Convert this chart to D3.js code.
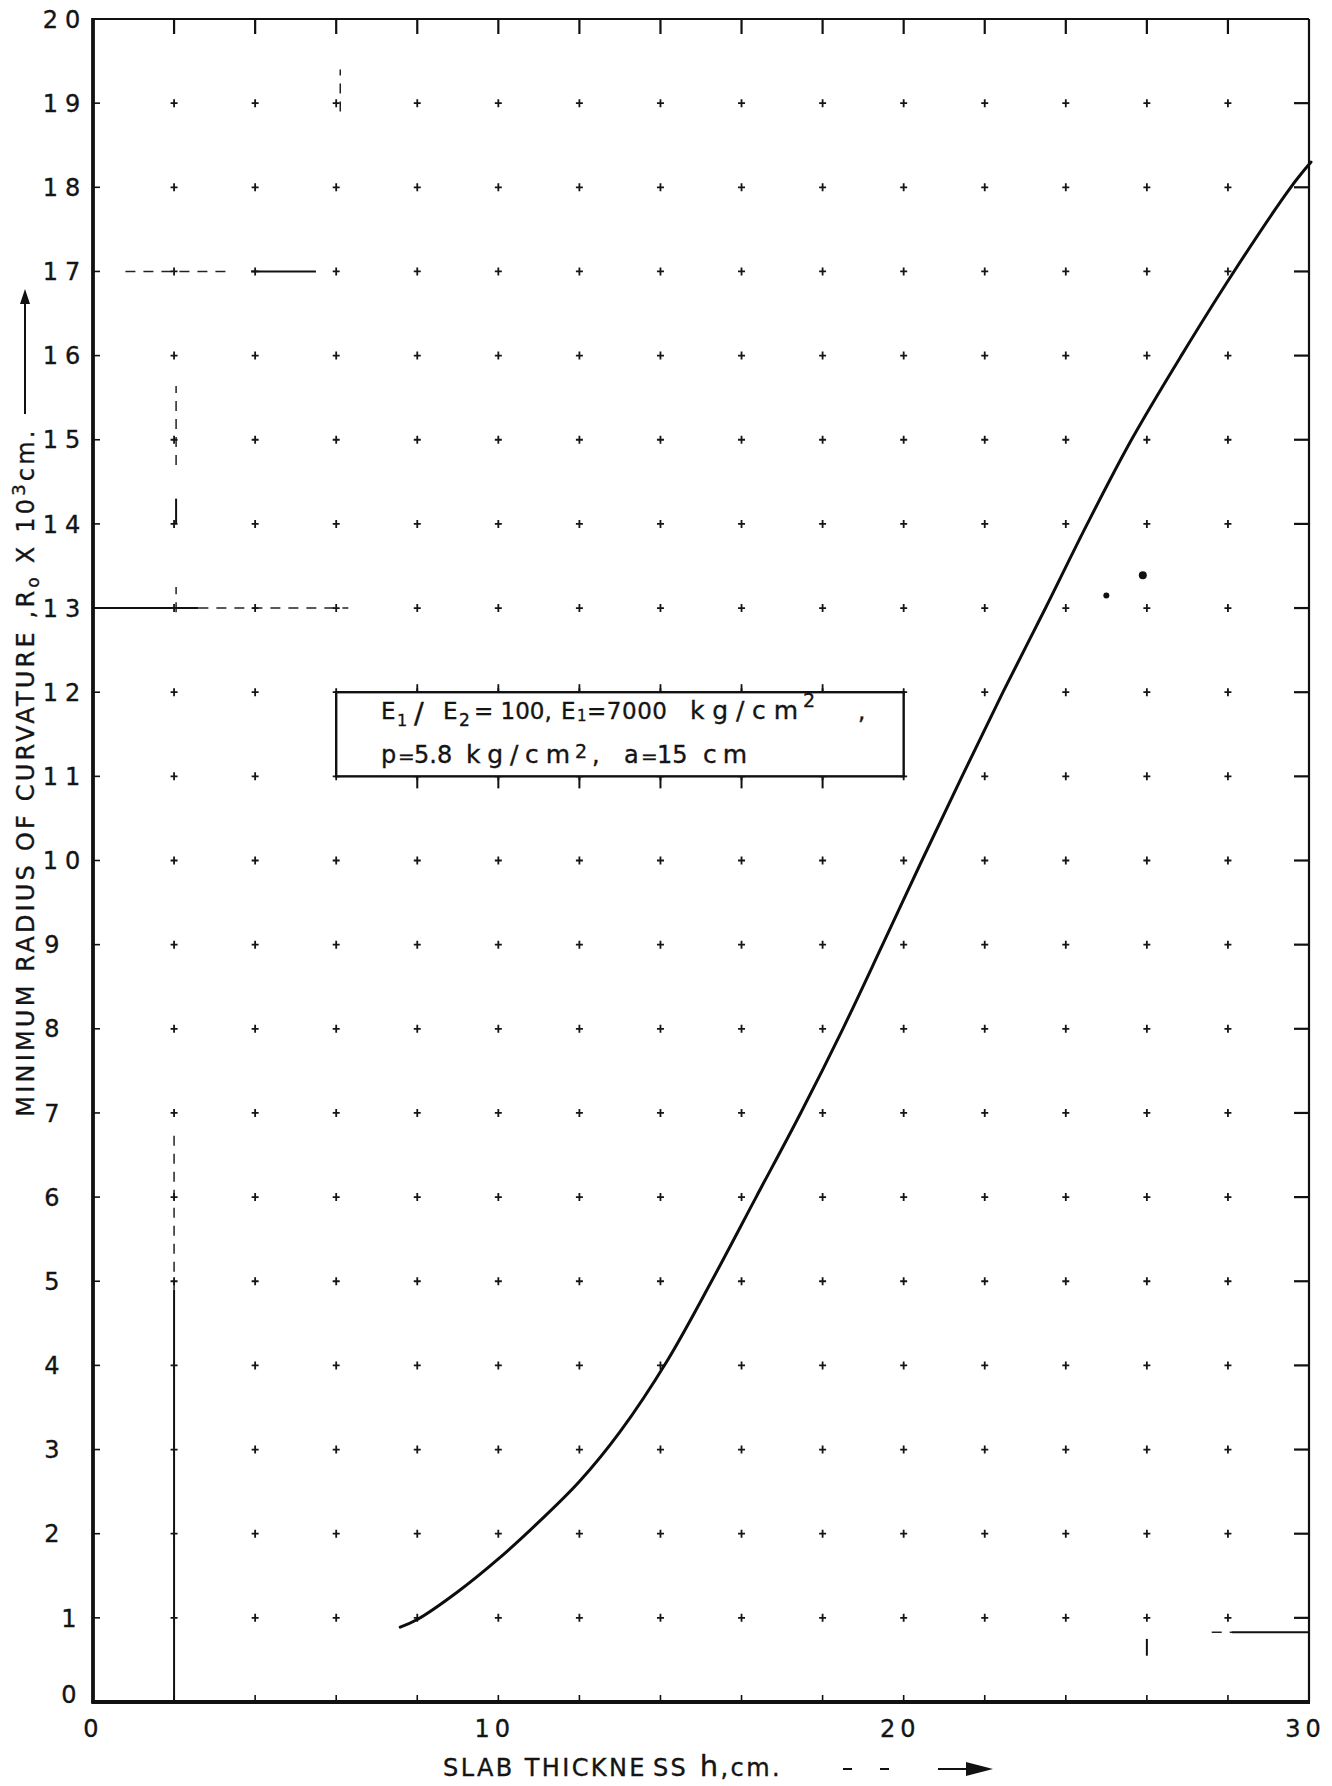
<!DOCTYPE html>
<html>
<head>
<meta charset="utf-8">
<script src="https://cdn.jsdelivr.net/npm/d3@7"></script>
<style>
  html, body { margin: 0; padding: 0; background: #fff; }
  svg { display: block; }
  text { font-family: "DejaVu Sans", sans-serif; fill: #141414; stroke: #141414; stroke-width: 0.35px; }
</style>
</head>
<body>
<svg id="chart" width="1332" height="1786"></svg>
<script>
// ---- data ----
const xDomain = [0, 30];          // slab thickness h, cm
const yDomain = [0, 20];          // R0 x 10^3 cm
const xTickLabels = [0, 10, 20, 30];
const yTickLabels = d3.range(0, 21);
const gridX = d3.range(2, 30, 2); // graph-paper marker columns
const gridY = d3.range(1, 20);    // graph-paper marker rows

// minimum radius of curvature vs slab thickness
const slabThickness = [7.58, 8, 9, 10, 11, 12, 13, 14.16, 15.26, 16.36, 17.46, 18.5,
                       19.48, 20.45, 21.44, 22.45, 23.5, 24.53, 25.62, 26.85, 28.15, 29.55, 30.05];
const radiusCurv    = [0.89, 0.98, 1.31, 1.7, 2.14, 2.62, 3.21, 4.05, 5.0, 6.0, 7.0, 8.0,
                       9.0, 10, 11, 12, 13, 14, 15, 16, 17, 18, 18.3];

// pencil construction lines left on the sheet: [x1, y1, x2, y2]
const guideSolid = [[2, 0, 2, 4.9], [0, 13, 2.6, 13], [3.9, 17, 5.5, 17], [2.05, 14.0, 2.05, 14.3],
                    [28.1, 0.83, 30, 0.83], [26, 0.55, 26, 0.75]];
const guideDashed = [[2, 4.9, 2, 6.8], [2.05, 12.95, 2.05, 13.25], [2.05, 14.7, 2.05, 15.64],
                     [2.6, 13, 6.3, 13], [0.8, 17, 3.4, 17], [6.1, 18.9, 6.1, 19.4], [27.6, 0.83, 28.1, 0.83]];
const inkSpots = [[25.0, 13.15, 3], [25.9, 13.39, 4]];

// legend box corners in data units
const boxX = [6, 20], boxY = [11, 12];
const boxTickX = d3.range(8, 20, 2);

// ---- scales ----
const x = d3.scaleLinear().domain(xDomain).range([93, 1309]);
const y = d3.scaleLinear().domain(yDomain).range([1702, 19]);

const svg = d3.select("#chart");
const g = svg.append("g");

// construction lines
g.selectAll("line.guide").data(guideSolid).join("line")
  .attr("x1", d => x(d[0])).attr("y1", d => y(d[1]))
  .attr("x2", d => x(d[2])).attr("y2", d => y(d[3]))
  .attr("stroke", "#111").attr("stroke-width", 2);
g.selectAll("line.guided").data(guideDashed).join("line")
  .attr("x1", d => x(d[0])).attr("y1", d => y(d[1]))
  .attr("x2", d => x(d[2])).attr("y2", d => y(d[3]))
  .attr("stroke", "#222").attr("stroke-width", 1.5).attr("stroke-dasharray", "10 8");
g.selectAll("circle.spot").data(inkSpots).join("circle")
  .attr("cx", d => x(d[0])).attr("cy", d => y(d[1])).attr("r", d => d[2]).attr("fill", "#111");

// graph-paper "+" markers
const crossPts = [];
gridX.forEach(gx => gridY.forEach(gy => crossPts.push([gx, gy])));
const cross = g.append("g").attr("stroke", "#151515").attr("stroke-width", 1.8);
cross.selectAll("path").data(crossPts).join("path")
  .attr("d", d => {
    const cx = x(d[0]), cy = y(d[1]);
    return `M${cx - 3.5},${cy}H${cx + 3.5}M${cx},${cy - 4}V${cy + 4}`;
  });

// frame
const frame = g.append("g").attr("stroke", "#111").attr("fill", "none");
frame.append("line").attr("x1", x(0)).attr("x2", x(30)).attr("y1", y(20)).attr("y2", y(20)).attr("stroke-width", 2.2);
frame.append("line").attr("x1", x(30)).attr("x2", x(30)).attr("y1", y(20)).attr("y2", y(0)).attr("stroke-width", 2.2);
frame.append("line").attr("x1", x(0)).attr("x2", x(0)).attr("y1", y(20) - 1).attr("y2", y(0) + 1.5).attr("stroke-width", 3.8);
frame.append("line").attr("x1", x(0) - 1.5).attr("x2", x(30) + 1).attr("y1", y(0)).attr("y2", y(0)).attr("stroke-width", 3.8);

// edge ticks
frame.selectAll("line.tt").data(gridX).join("line")
  .attr("x1", d => x(d)).attr("x2", d => x(d)).attr("y1", y(20)).attr("y2", y(20) + 15).attr("stroke-width", 2.2);
frame.selectAll("line.bt").data(gridX).join("line")
  .attr("x1", d => x(d)).attr("x2", d => x(d)).attr("y1", y(0)).attr("y2", y(0) - 7).attr("stroke-width", 1.6);
frame.selectAll("line.rt").data(gridY).join("line")
  .attr("x1", x(30) - 15).attr("x2", x(30)).attr("y1", d => y(d)).attr("y2", d => y(d)).attr("stroke-width", 2.2);
frame.selectAll("line.lt").data(gridY).join("line")
  .attr("x1", x(0)).attr("x2", x(0) + 7).attr("y1", d => y(d)).attr("y2", d => y(d)).attr("stroke-width", 1.6);

// curve
const line = d3.line().x(d => x(d[0])).y(d => y(d[1])).curve(d3.curveCatmullRom.alpha(0.5));
g.append("path")
  .datum(slabThickness.map((h, i) => [h, radiusCurv[i]]))
  .attr("d", line).attr("fill", "none").attr("stroke", "#0d0d0d").attr("stroke-width", 3)
  .attr("stroke-linejoin", "round").attr("stroke-linecap", "round");

// legend box
const box = g.append("g");
box.append("rect")
  .attr("x", x(boxX[0])).attr("y", y(boxY[1]))
  .attr("width", x(boxX[1]) - x(boxX[0])).attr("height", y(boxY[0]) - y(boxY[1]))
  .attr("fill", "#fff").attr("stroke", "#111").attr("stroke-width", 2.4);
box.selectAll("line.up").data(boxTickX).join("line")
  .attr("x1", d => x(d)).attr("x2", d => x(d)).attr("y1", y(boxY[1])).attr("y2", y(boxY[1]) - 8)
  .attr("stroke", "#111").attr("stroke-width", 1.8);
box.selectAll("line.dn").data(boxTickX).join("line")
  .attr("x1", d => x(d)).attr("x2", d => x(d)).attr("y1", y(boxY[0])).attr("y2", y(boxY[0]) + 12)
  .attr("stroke", "#111").attr("stroke-width", 2);

// lettering-guide style text: word groups spaced out to their drawn width
function letter(parent, px, py, str, width, size) {
  const t = parent.append("text").attr("x", px).attr("y", py).style("font-size", size + "px").text(str);
  if (width) t.attr("textLength", width).attr("lengthAdjust", "spacing");
  return t;
}
const l1 = y(boxY[1]) + 27, l2 = y(boxY[0]) - 13;
// line 1: E1 / E2 = 100, E1 = 7000 kg/cm2 ,
letter(box, 381, l1, "E", null, 23);
letter(box, 397, l1 + 7, "1", null, 16);
letter(box, 414, l1 + 4, "/", null, 29);
letter(box, 443, l1, "E", null, 23);
letter(box, 459, l1 + 7, "2", null, 17);
letter(box, 474, l1, "= 100,", null, 23);
letter(box, 561, l1, "E", null, 23);
letter(box, 577, l1 + 2, "1", null, 15);
letter(box, 587, l1, "=7000", 80, 23);
letter(box, 690, l1, "kg/cm", 108, 25);
letter(box, 803, l1 - 12, "2", null, 19);
letter(box, 858, l1, ",", null, 23);
// line 2: p = 5.8 kg/cm2, a = 15 cm
letter(box, 381, l2, "p", null, 24);
letter(box, 398, l2, "=", null, 20);
letter(box, 414, l2, "5.8", null, 24);
letter(box, 466, l2, "kg/cm", 104, 25);
letter(box, 575, l2 - 5, "2", null, 19);
letter(box, 592, l2, ",", null, 24);
letter(box, 624, l2, "a", null, 24);
letter(box, 641, l2, "=", null, 20);
letter(box, 657, l2, "15", null, 24);
letter(box, 703, l2, "cm", 44, 25);

// axes labels (tick text only)
const yAxis = svg.append("g").attr("transform", `translate(${x(0)},0)`)
  .call(d3.axisLeft(y).tickValues(yTickLabels).tickSize(0).tickFormat(d3.format("d")));
yAxis.select(".domain").remove();
yAxis.selectAll("text")
  .attr("text-anchor", "middle")
  .attr("x", d => d >= 10 ? -28 : (d <= 1 ? -24 : -41))
  .attr("dy", d => d === 0 ? "0.0em" : "0.34em")
  .style("font-family", "'DejaVu Sans', sans-serif").style("font-size", "24px")
  .style("letter-spacing", d => d >= 10 ? "7px" : "0px")
  .attr("fill", "#141414");

const xAxis = svg.append("g").attr("transform", `translate(0,${y(0)})`)
  .call(d3.axisBottom(x).tickValues(xTickLabels).tickSize(0).tickFormat(d3.format("d")));
xAxis.select(".domain").remove();
xAxis.selectAll("text")
  .attr("y", 18).attr("dy", "0.71em")
  .attr("dx", d => d >= 10 ? "-4px" : "0px")
  .style("font-family", "'DejaVu Sans', sans-serif").style("font-size", "24px")
  .style("letter-spacing", "5px")
  .attr("fill", "#141414");

// x title with arrow
const xt = svg.append("text").attr("x", 443).attr("y", 1776).style("font-size", "24px").style("letter-spacing", "2.4px");
xt.append("tspan").text("SLAB  THICKNE");
xt.append("tspan").attr("dx", 6).text("SS");
xt.append("tspan").style("font-size", "29px").text(" h");
xt.append("tspan").text(",cm.");
const xa = svg.append("g").attr("stroke", "#111").attr("stroke-width", 2);
xa.append("line").attr("x1", 843).attr("x2", 852).attr("y1", 1769).attr("y2", 1769);
xa.append("line").attr("x1", 880).attr("x2", 889).attr("y1", 1769).attr("y2", 1769);
xa.append("line").attr("x1", 938).attr("x2", 972).attr("y1", 1769).attr("y2", 1769);
svg.append("path").attr("d", "M966,1762L993,1769L966,1776Z").attr("fill", "#111");

// y title with arrow
const yt = svg.append("text").attr("transform", "translate(34,772) rotate(-90)")
  .attr("text-anchor", "middle").style("font-size", "24px").style("letter-spacing", "3.2px");
yt.append("tspan").text("MINIMUM  RADIUS  OF  CURVATURE ,R");
yt.append("tspan").attr("dy", 5).style("font-size", "17px").text("o");
yt.append("tspan").attr("dy", -5).text(" X 10");
yt.append("tspan").attr("dy", -9).style("font-size", "18px").text("3");
yt.append("tspan").attr("dy", 9).text("cm.");
svg.append("line").attr("x1", 25).attr("x2", 25).attr("y1", 414).attr("y2", 300).attr("stroke", "#111").attr("stroke-width", 2);
svg.append("path").attr("d", "M20,304L25,289L30,304Z").attr("fill", "#111");
</script>
</body>
</html>
